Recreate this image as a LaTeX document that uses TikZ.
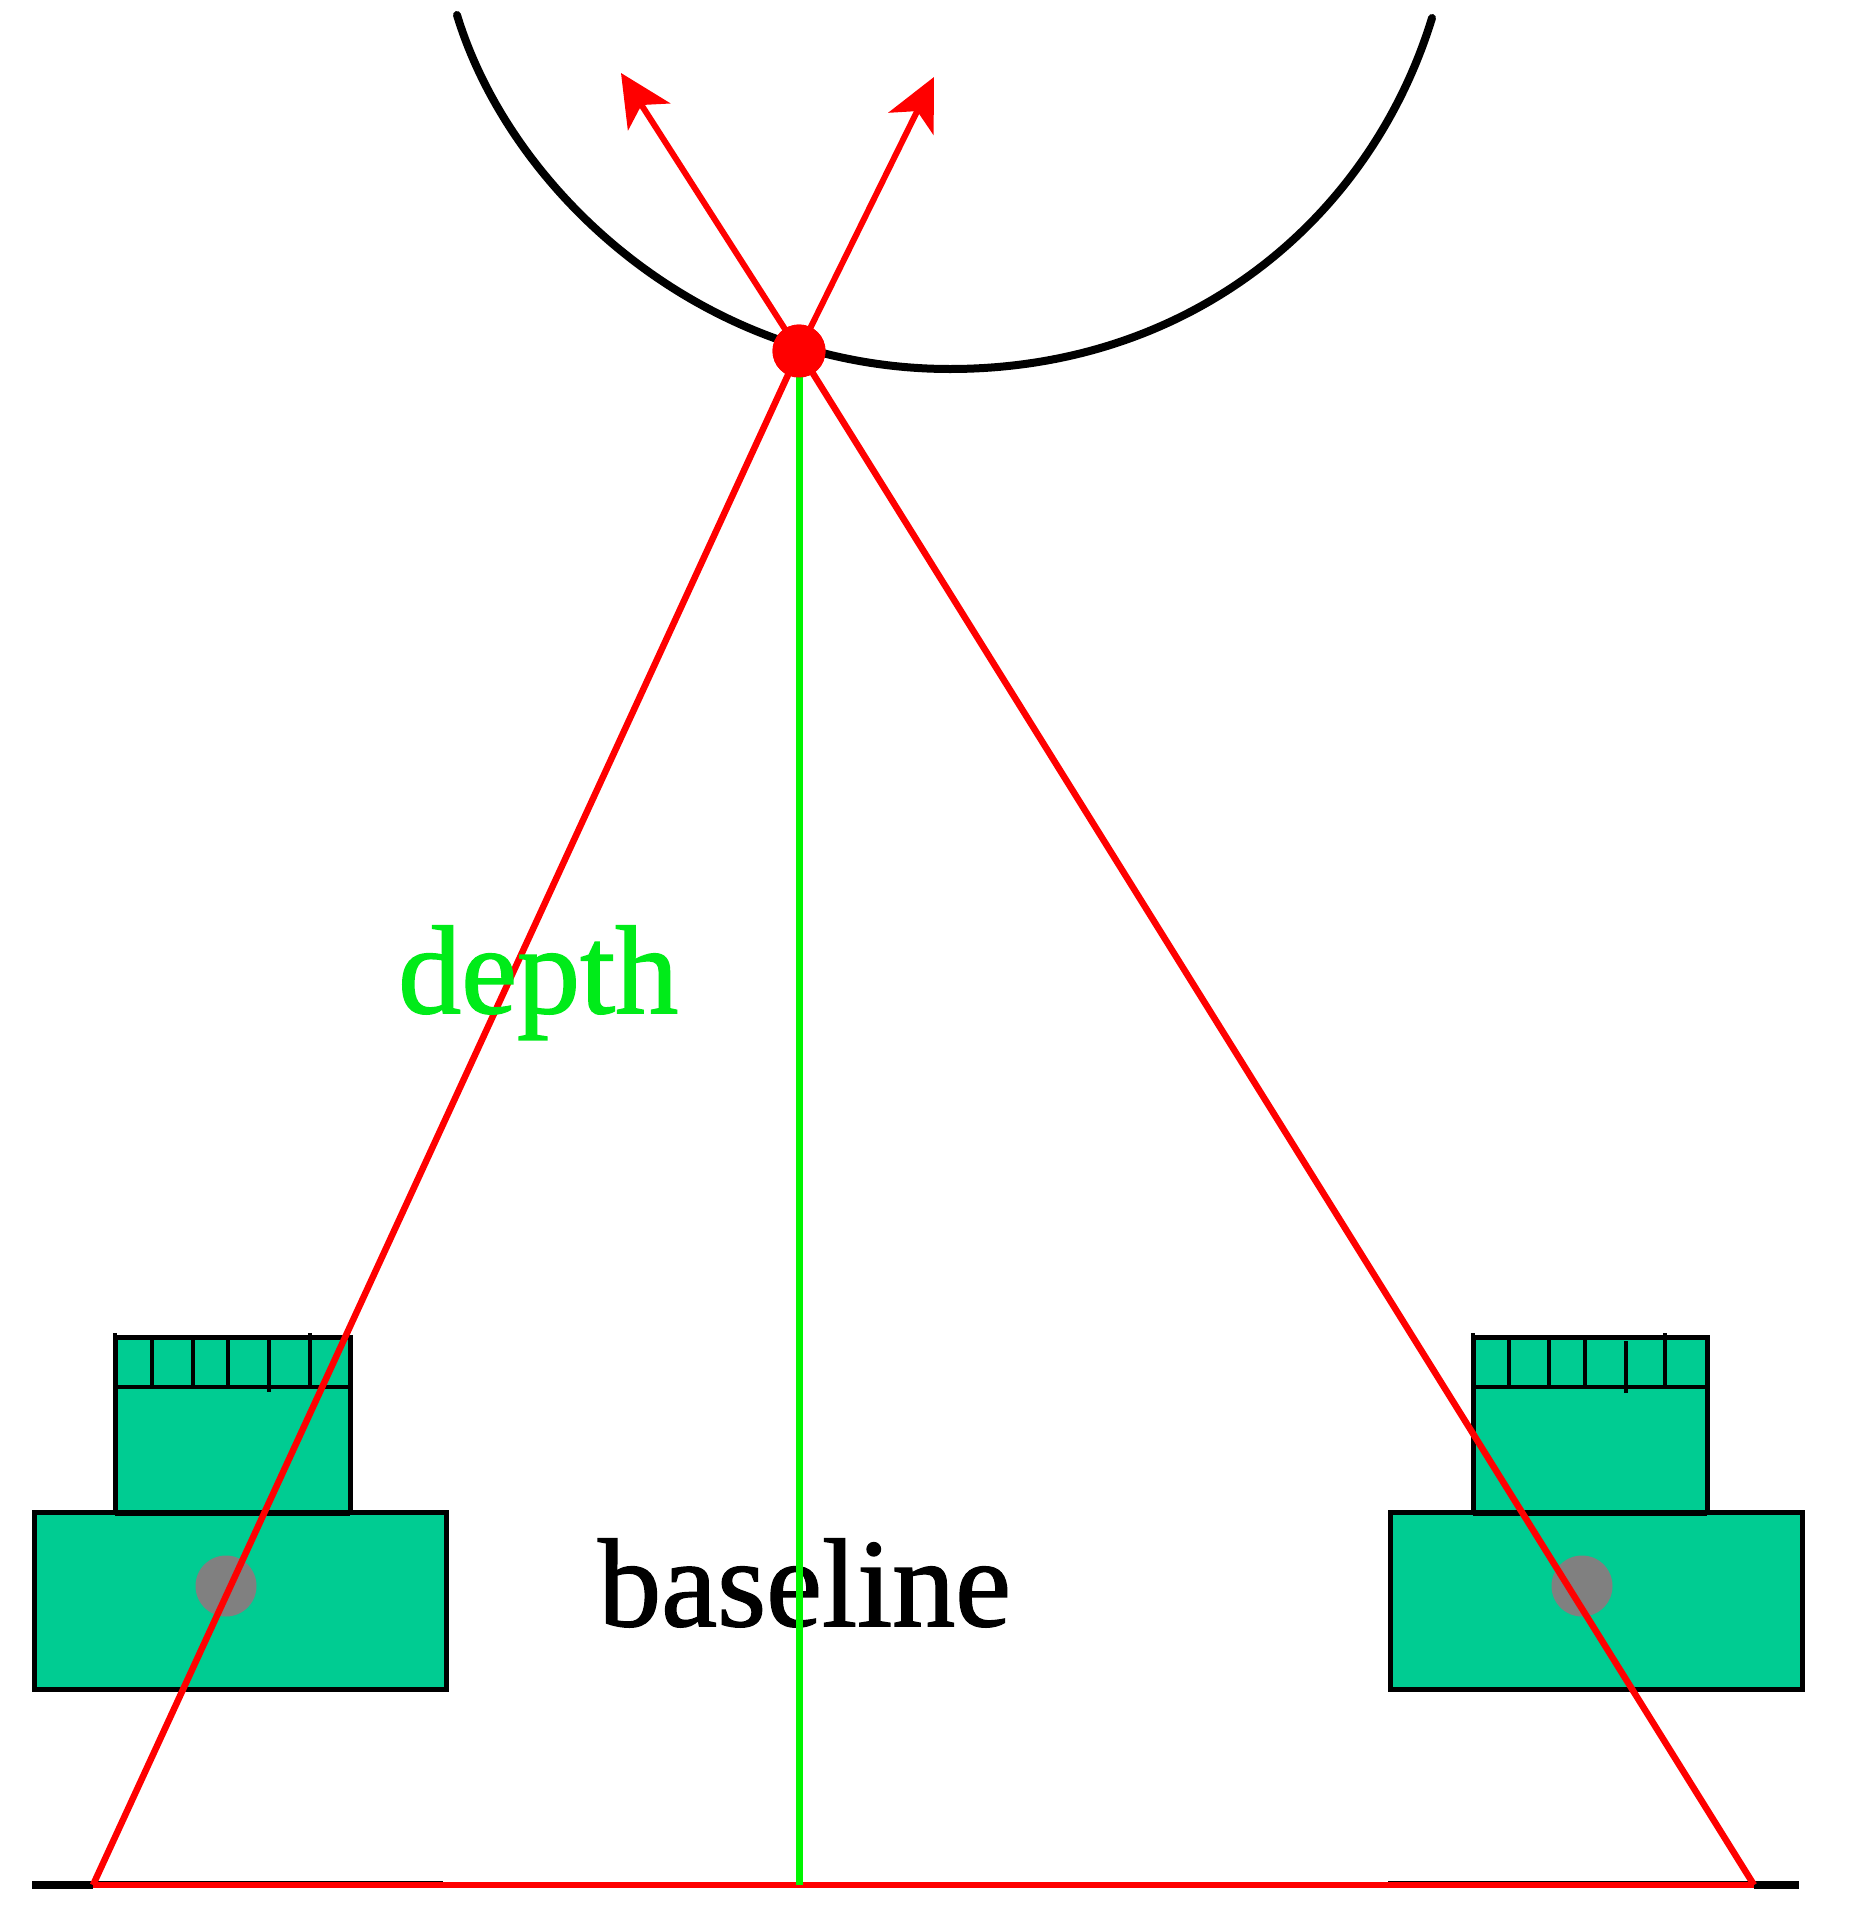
\documentclass[tikz,border=0pt]{standalone}
\usepackage{fontspec}
\setmainfont{Liberation Serif}
\newfontfamily\labelfont[FakeBold=1.2]{Liberation Serif}
\usetikzlibrary{arrows.meta}
\definecolor{camgreen}{RGB}{0,204,146}
\definecolor{lensgray}{RGB}{128,128,128}
\definecolor{rayred}{RGB}{255,0,0}
\definecolor{depthline}{RGB}{0,245,0}
\definecolor{depthtext}{RGB}{0,235,25}
\tikzset{
  camfill/.style={fill=camgreen,draw=black,line width=5pt},
  tick/.style={draw=black,line width=4.5pt},
  ray/.style={draw=rayred,line width=6.5pt},
  normalray/.style={draw=rayred,line width=6pt,-{Stealth[length=52pt,width=50pt,inset=14pt]}},
  lens/.style={circle,fill=lensgray,draw=none,minimum size=61pt,inner sep=0pt},
  dotnode/.style={circle,fill=rayred,minimum size=53pt,inner sep=0pt},
  label/.style={inner sep=0pt,font=\labelfont\fontsize{126}{126}\selectfont,anchor=base west},
}
\begin{document}
\begin{tikzpicture}[x=1pt,y=-1pt]
\useasboundingbox (0,0) rectangle (1856,1909);
\fill[white] (0,0) rectangle (1856,1909);

% left camera
\draw[camfill] (115,1337) rectangle (350,1514);
\draw[camfill] (34,1512) rectangle (446,1689);
\draw[tick] (115,1514) -- (350,1514);
\draw[tick] (115,1387) -- (353,1387);
\draw[tick] (115,1333) -- (115,1337);
\foreach \x/\a/\b in {152/1337/1387,193/1337/1387,228/1337/1387,269/1337/1392,310/1333/1387}{\draw[tick] (\x,\a) -- (\x,\b);}
\node[lens] (lensL) at (226,1586) {};

% right camera
\draw[camfill] (1473,1337) rectangle (1707,1514);
\draw[camfill] (1390,1512) rectangle (1802,1689);
\draw[tick] (1473,1514) -- (1707,1514);
\draw[tick] (1473,1387) -- (1707,1387);
\draw[tick] (1473,1333) -- (1473,1337);
\foreach \x/\a/\b in {1509/1337/1387,1549/1337/1387,1585/1337/1387,1626/1341/1393,1665/1333/1387}{\draw[tick] (\x,\a) -- (\x,\b);}
\node[lens] (lensR) at (1582,1586) {};

% sensor lines under each camera
\coordinate (baseL) at (93,1885);
\coordinate (baseR) at (1754,1885);
\fill[black] (32,1881) rectangle (93,1889);
\fill[black] (93,1881) rectangle (443,1885);
\fill[black] (1388,1881) rectangle (1754,1885);
\fill[black] (1754,1881) rectangle (1799,1889);

% baseline label sits under the vertical line
\node[label,text=black] (baseline) at (598,1626) {baseline};

% viewed surface
\draw[black,line width=8pt,line cap=round]
  (457,15) .. controls (510,190) and (700,369) .. (950,369)
  .. controls (1190,369) and (1370,220) .. (1432,18);

% surface point, rays and normals
\node[dotnode] (point) at (799,351) {};
\coordinate (tipL) at (621,73);
\coordinate (tipR) at (934,77);
\coordinate (footG) at (799,1885);
\draw[ray] (point.center) -- (baseL);
\draw[ray] (point.center) -- (baseR);
\draw[ray] (baseL) -- (baseR);
\draw[draw=depthline,line width=7pt] (point.center) -- (footG);
\draw[normalray] (point.center) -- (tipL);
\draw[normalray] (point.center) -- (tipR);
\node[dotnode] (pointtop) at (799,351) {};

% depth label sits over the left ray
\node[label,text=depthtext] (depth) at (398,1013) {depth};
\end{tikzpicture}
\end{document}
